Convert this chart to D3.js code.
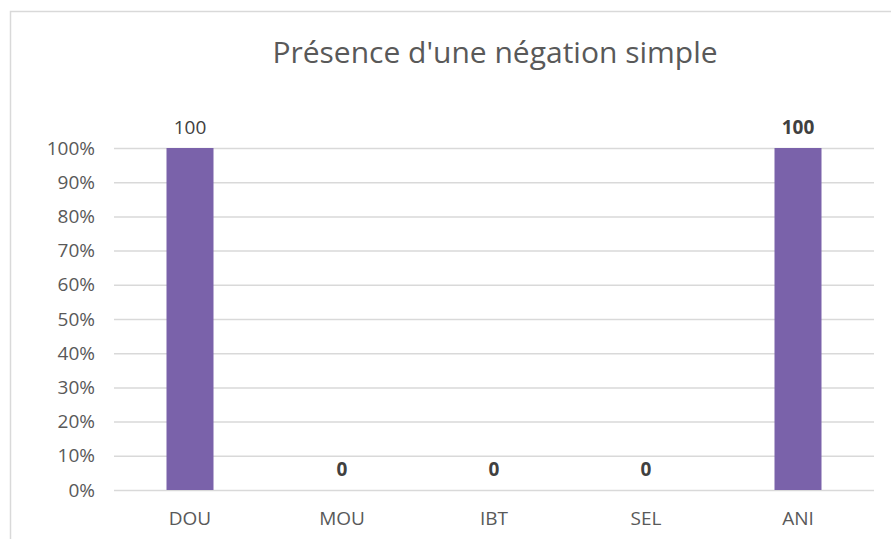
<!DOCTYPE html>
<html><head><meta charset="utf-8">
<script src="https://cdn.jsdelivr.net/npm/d3@7"></script>
<style>body{margin:0;background:#fff;}svg{display:block;}</style>
</head><body>
<script>
const categories = ["DOU","MOU","IBT","SEL","ANI"];
const values = [100,0,0,0,100];
const labelBold = [false,true,true,true,true];
const yTicks = [0,10,20,30,40,50,60,70,80,90,100];
const title = "Présence d'une négation simple";

const W = 891, H = 539;
const font = "'Open Sans', sans-serif";
const svg = d3.select("body").append("svg").attr("width", W).attr("height", H);
svg.append("rect").attr("width", W).attr("height", H).attr("fill", "#fff");
// chart frame (cropped on right and bottom)
svg.append("path").attr("d", `M10.5,${H} V11.5 H${W}`).attr("fill","none").attr("stroke","#d9d9d9").attr("stroke-width",1.5);

const m = {left:114, right:874, top:148, bottom:490};
const x = d3.scaleBand().domain(categories).range([m.left, m.right]).paddingInner(0).paddingOuter(0);
const y = d3.scaleLinear().domain([0,100]).range([m.bottom, m.top]);

svg.append("text").attr("x", 495).attr("y", 63).attr("text-anchor","middle")
  .attr("font-family", font).attr("font-size", 30).attr("fill","#595959").text(title);

const yAxis = svg.append("g").attr("transform", `translate(${m.left},0)`)
  .call(d3.axisLeft(y).tickValues(yTicks).tickSize(-(m.right-m.left)).tickFormat(d => d + "%"));
yAxis.select(".domain").remove();
yAxis.selectAll(".tick line").attr("stroke","#d9d9d9").attr("stroke-width",1.5);
yAxis.selectAll(".tick text").attr("x",-19).attr("font-family",font).attr("font-size",19).attr("fill","#595959");

const barW = 47;
svg.selectAll("rect.bar").data(values).join("rect").attr("class","bar")
  .attr("x",(d,i)=>x(categories[i]) + x.bandwidth()/2 - barW/2)
  .attr("width",barW)
  .attr("y",d=>y(d)).attr("height",d=>y(0)-y(d))
  .attr("fill","#7a62aa");

svg.selectAll("text.lbl").data(values).join("text").attr("class","lbl")
  .attr("x",(d,i)=>x(categories[i]) + x.bandwidth()/2)
  .attr("y",d=>y(d)-14)
  .attr("text-anchor","middle").attr("font-family",font).attr("font-size",19)
  .attr("font-weight",(d,i)=>labelBold[i]?"bold":"normal")
  .attr("fill","#404040")
  .text(d=>d);

const xAxis = svg.append("g").attr("transform",`translate(0,${m.bottom})`)
  .call(d3.axisBottom(x).tickSize(0).tickPadding(22));
xAxis.select(".domain").remove();
xAxis.selectAll(".tick text").attr("font-family",font).attr("font-size",19).attr("fill","#595959");
</script>
</body></html>
